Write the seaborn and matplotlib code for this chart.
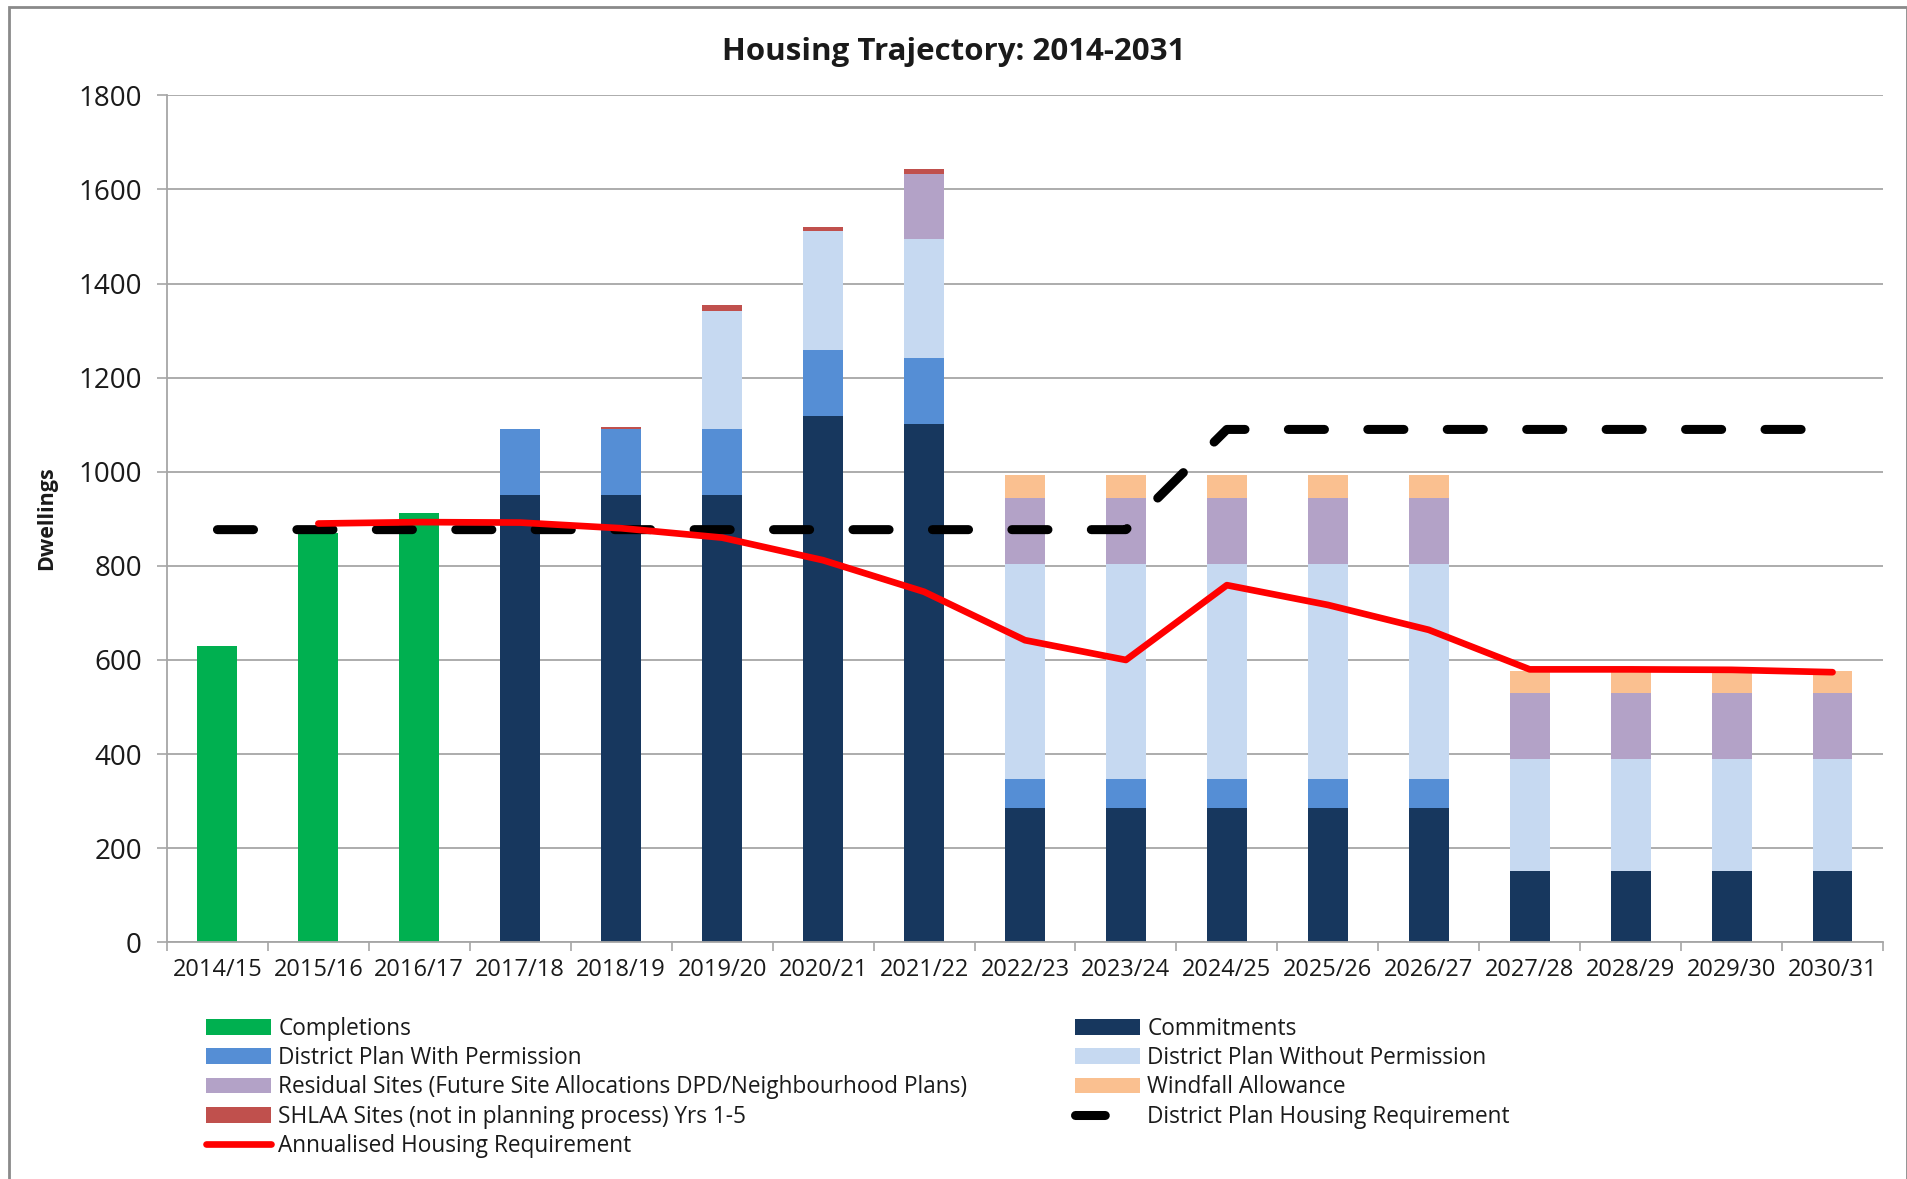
import numpy as np
import matplotlib
matplotlib.use("Agg")
import matplotlib.pyplot as plt
import seaborn as sns
from matplotlib.patches import Patch, Rectangle
from matplotlib.lines import Line2D

# ---------------- data ----------------
years = ["2014/15", "2015/16", "2016/17", "2017/18", "2018/19", "2019/20", "2020/21",
         "2021/22", "2022/23", "2023/24", "2024/25", "2025/26", "2026/27", "2027/28",
         "2028/29", "2029/30", "2030/31"]
completions = [630, 869, 913, 0, 0, 0, 0, 0, 0, 0, 0, 0, 0, 0, 0, 0, 0]
commitments = [0, 0, 0, 950, 950, 950, 1119, 1101, 285, 285, 285, 285, 285, 152, 152, 152, 152]
with_permission = [0, 0, 0, 140, 140, 140, 140, 140, 62, 62, 62, 62, 62, 0, 0, 0, 0]
without_permission = [0, 0, 0, 0, 0, 252, 252, 253, 456, 456, 456, 456, 456, 237, 237, 237, 237]
residual = [0, 0, 0, 0, 0, 0, 0, 139, 141, 141, 141, 141, 141, 140, 140, 140, 140]
windfall = [0, 0, 0, 0, 0, 0, 0, 0, 50, 50, 50, 50, 50, 48, 48, 48, 48]
shlaa = [0, 0, 0, 0, 6, 12, 10, 11, 0, 0, 0, 0, 0, 0, 0, 0, 0]
district_requirement = [877, 877, 877, 877, 877, 877, 877, 877, 877, 877,
                        1090, 1090, 1090, 1090, 1090, 1090, 1090]
annualised = [np.nan, 890, 893, 892, 880, 860, 812, 745, 642, 600, 759, 717, 664,
              580, 580, 579, 574]

labels = ["Completions", "Commitments", "District Plan With Permission",
          "District Plan Without Permission",
          "Residual Sites (Future Site Allocations DPD/Neighbourhood Plans)",
          "Windfall Allowance", "SHLAA Sites (not in planning process) Yrs 1-5"]
colors = ["#00B050", "#17375E", "#558ED5", "#C6D9F1", "#B3A2C7", "#FAC090", "#C0504D"]

# ---------------- style ----------------
sns.set_style("white")
plt.rcParams["font.family"] = ["Open Sans", "DejaVu Sans"]
TXT = "#1a1a1a"
GRID = "#a6a6a6"

fig = plt.figure(figsize=(19.08, 11.79), dpi=100)
ax = fig.add_axes([0.0875, 0.2008, 0.8994, 0.7183])

layers = np.array([completions, commitments, with_permission, without_permission,
                   residual, windfall, shlaa], dtype=float)
cum = np.cumsum(layers, axis=0)

for i in range(len(layers) - 1, -1, -1):
    sns.barplot(x=years, y=cum[i], order=years, color=colors[i], saturation=1,
                width=0.395, linewidth=0, errorbar=None, ax=ax)

xpos = np.arange(len(years))
ax.plot(xpos, district_requirement, color="black", lw=6.5, dashes=(4, 4.8),
        dash_capstyle="round", solid_capstyle="round", zorder=4)
ax.plot(xpos, annualised, color="#FF0000", lw=4.8, solid_joinstyle="round",
        solid_capstyle="round", zorder=5)

# ---------------- axes ----------------
ax.set_xlim(-0.5, len(years) - 0.5)
ax.set_ylim(0, 1800)
ax.set_yticks(np.arange(0, 1801, 200))
ax.set_xticks(xpos)
ax.set_xticklabels(years)
ax.set_xticks(np.arange(-0.5, len(years), 1.0), minor=True)
ax.set_xlabel("")
ax.set_ylabel("")
ax.yaxis.grid(True, color=GRID, lw=1.3)
ax.xaxis.grid(False)
ax.set_axisbelow(True)
for s in ["top", "right"]:
    ax.spines[s].set_visible(False)
for s in ["left", "bottom"]:
    ax.spines[s].set_color(GRID)
    ax.spines[s].set_linewidth(1.3)
ax.tick_params(axis="y", which="major", length=7, width=1.2, color=GRID,
               labelsize=20, labelcolor=TXT, pad=11, left=True)
ax.tick_params(axis="x", which="major", length=0, labelsize=17, labelcolor=TXT, pad=11,
               bottom=True)
ax.tick_params(axis="x", which="minor", length=6.5, width=1.2, color=GRID, bottom=True)

# ---------------- text ----------------
fig.text(0.5, 1 - 52 / 1179, "Housing Trajectory: 2014-2031", ha="center", va="center",
         fontsize=22.5, fontweight="bold", color=TXT)
fig.text(46.5 / 1908, 1 - 518 / 1179, "Dwellings", rotation=90, ha="center", va="center",
         fontsize=15.5, fontweight="bold", color=TXT)

# ---------------- legend ----------------
h = {lab: Patch(facecolor=c, edgecolor="none") for lab, c in zip(labels, colors)}
h_red = Line2D([], [], color="#FF0000", lw=4.8, solid_capstyle="round")
h_blk = Line2D([], [], color="black", lw=6.5, dashes=(3.3, 8), dash_capstyle="round")

left_items = [(h[labels[0]], labels[0]), (h[labels[2]], labels[2]), (h[labels[4]], labels[4]),
              (h[labels[6]], labels[6]), (h_red, "Annualised Housing Requirement")]
right_items = [(h[labels[1]], labels[1]), (h[labels[3]], labels[3]), (h[labels[5]], labels[5]),
               (h_blk, "District Plan Housing Requirement")]

common = dict(loc="upper left", frameon=False, fontsize=16.3, borderpad=0, borderaxespad=0,
              handlelength=2.85, handletextpad=0.35, labelspacing=0.23, labelcolor=TXT)
fig.legend([a for a, _ in left_items], [b for _, b in left_items],
           bbox_to_anchor=(206 / 1908, 1 - 1017 / 1179), **common)
fig.legend([a for a, _ in right_items], [b for _, b in right_items],
           bbox_to_anchor=(1075 / 1908, 1 - 1017 / 1179), **common)

# ---------------- border ----------------
fig.patches.append(Rectangle((9 / 1908, -0.02), (1907 - 9) / 1908, 1.02 - 7 / 1179,
                             transform=fig.transFigure, fill=False, edgecolor="#8a8a8a",
                             lw=2, clip_on=False))

fig.savefig("out.png", dpi=100)
